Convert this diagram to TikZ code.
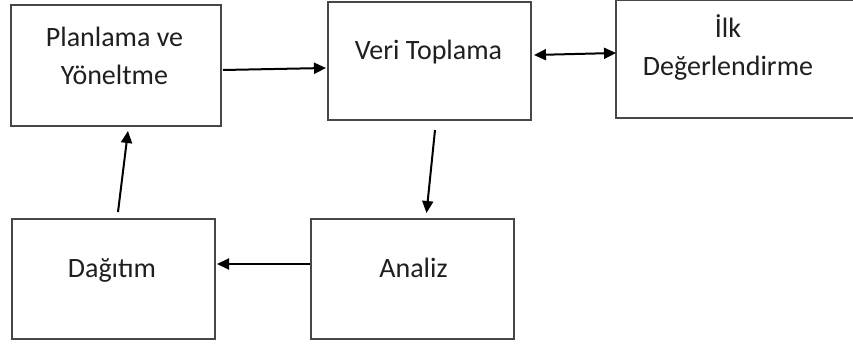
\documentclass[tikz,border=0pt]{standalone}
\usepackage{fontspec}
\setmainfont{Carlito}
\usetikzlibrary{arrows.meta}
\begin{document}
\begin{tikzpicture}[x=1pt,y=-1pt,
  box/.style={draw=black!72, line width=2pt, rectangle, inner sep=0pt},
  lbl/.style={font=\fontsize{28}{38}\selectfont, text=black!88, align=center, inner sep=0pt},
  arr/.style={line width=2pt, -{Triangle[length=12pt,width=11pt]}},
  darr/.style={line width=2pt, {Triangle[length=12pt,width=11pt]}-{Triangle[length=12pt,width=11pt]}}]
\useasboundingbox (0,0) rectangle (853,347);
\clip (0,0) rectangle (853,347);
\fill[white] (0,0) rectangle (853,347);
% boxes
\node[box, minimum width=210pt, minimum height=121pt] (b1) at (116,65.5) {};
\node[box, minimum width=203pt, minimum height=118pt] (b2) at (429.5,61) {};
\node[box, minimum width=264pt, minimum height=118pt] (b3) at (748,59) {};
\node[box, minimum width=203pt, minimum height=120pt] (b4) at (113.5,279) {};
\node[box, minimum width=203pt, minimum height=120pt] (b5) at (412.5,279) {};
% labels
\node[lbl, anchor=base] (t1a) at (114.5,47) {Planlama ve};
\node[lbl, anchor=base] (t1b) at (114.5,85) {Yöneltme};
\node[lbl, anchor=base] (t2) at (428.5,60) {Veri Toplama};
\node[lbl, anchor=base] (t3a) at (728,38) {İlk};
\node[lbl, anchor=base] (t3b) at (728,76) {Değerlendirme};
\node[lbl, anchor=base] (t4) at (112,277) {Dağıtım};
\node[lbl, anchor=base] (t5) at (413.5,277) {Analiz};
% connectors
\draw[arr] ([xshift=1pt,yshift=-4.5pt]b1.east) -- ([xshift=-1pt,yshift=-7pt]b2.west);
\draw[darr] ([xshift=2pt,yshift=6pt]b2.east) -- ([xshift=1pt,yshift=6pt]b3.west);
\draw[arr] ([xshift=5.5pt,yshift=-9pt]b2.south) -- ([xshift=14pt,yshift=5pt]b5.north);
\draw[arr] ([yshift=15pt]b5.west) -- ([xshift=1pt,yshift=15pt]b4.east);
\draw[arr] ([xshift=4.5pt,yshift=6pt]b4.north) -- ([xshift=12pt,yshift=-4pt]b1.south);
\end{tikzpicture}
\end{document}
